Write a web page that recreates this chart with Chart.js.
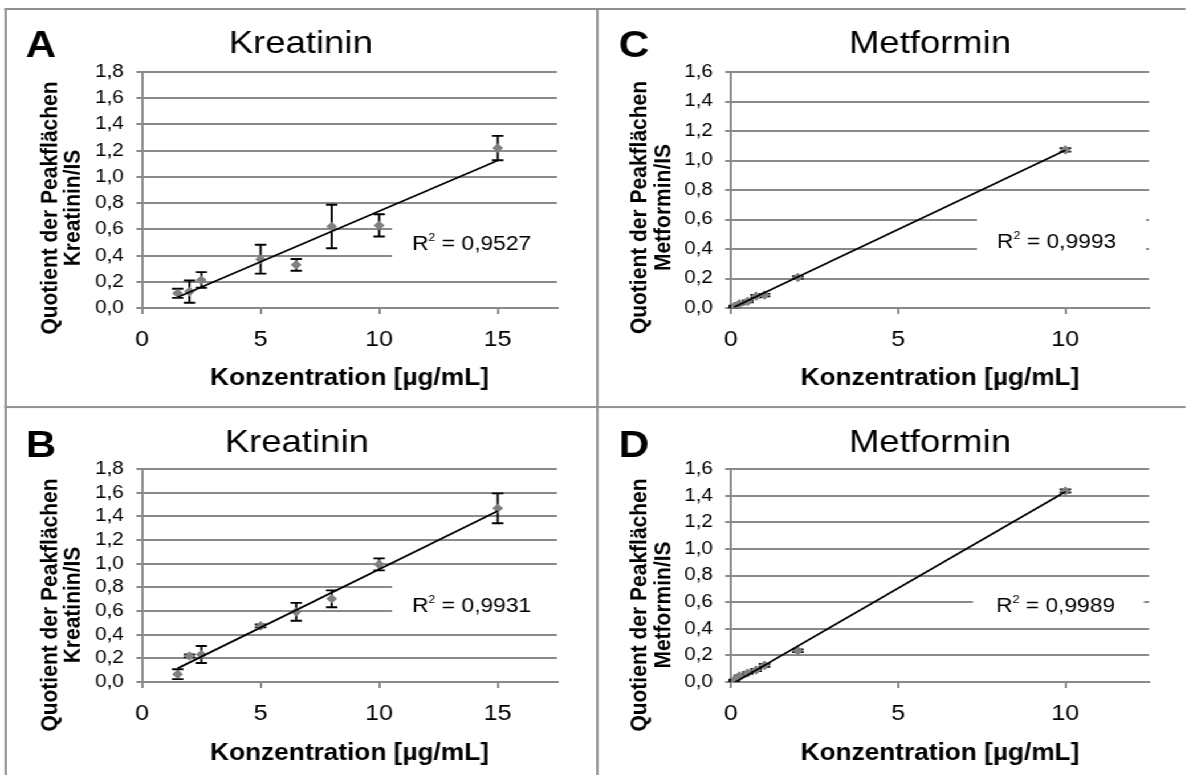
<!DOCTYPE html>
<html>
<head>
<meta charset="utf-8">
<script src="https://cdn.jsdelivr.net/npm/chart.js@4.4.1/dist/chart.umd.min.js"></script>
<style>
  html, body { margin: 0; padding: 0; background: #fff; }
  body { width: 1186px; height: 775px; overflow: hidden; position: relative; }
  /* the figure is a little wider than tall-proportioned Arial, so the whole stage is stretched */
  #stage { position: absolute; left: 0; top: 0; width: 1040px; height: 775px;
           transform: scaleX(1.14); transform-origin: 0 0; }
  .frame { position: absolute; background: #909090; }
  canvas { position: absolute; }
</style>
</head>
<body>
<div id="stage">
  <div class="frame" style="left:4px;top:8px;width:1036px;height:2px"></div>
  <div class="frame" style="left:4px;top:8px;width:2px;height:767px"></div>
  <div class="frame" style="left:523px;top:8px;width:2px;height:767px"></div>
  <div class="frame" style="left:4px;top:406px;width:1036px;height:2px"></div>
  <canvas id="chartA" width="517" height="396" style="left:6px;top:10px"></canvas>
  <canvas id="chartC" width="515" height="396" style="left:525px;top:10px"></canvas>
  <canvas id="chartB" width="517" height="367" style="left:6px;top:408px"></canvas>
  <canvas id="chartD" width="515" height="367" style="left:525px;top:408px"></canvas>
</div>
<script>
const FONT = "'Liberation Sans', Arial, sans-serif";
const GRID = '#8a8a8a';

// Kreatinin, concentrations in µg/mL
const kreaConc = [1.5, 2, 2.5, 5, 6.5, 8, 10, 15];
const kreaQuotA = [0.112, 0.125, 0.214, 0.372, 0.329, 0.622, 0.630, 1.220];
const kreaErrA = [0.035, 0.085, 0.060, 0.110, 0.045, 0.166, 0.085, 0.093];
const kreaQuotB = [0.066, 0.220, 0.232, 0.474, 0.593, 0.703, 0.994, 1.468];
const kreaErrB = [0.042, 0.012, 0.072, 0.012, 0.076, 0.071, 0.051, 0.126];

// Metformin
const metConc = [0.1, 0.25, 0.5, 0.75, 1, 2, 10];
const metQuotC = [0.010, 0.028, 0.045, 0.080, 0.088, 0.207, 1.072];
const metErrC = [0.005, 0.005, 0.006, 0.008, 0.008, 0.008, 0.012];
const metQuotD = [0.012, 0.045, 0.068, 0.090, 0.125, 0.235, 1.435];
const metErrD = [0.005, 0.005, 0.006, 0.008, 0.010, 0.010, 0.012];

// linear trendlines (end points)
const trendConcKrea = [1.5, 15];
const trendA = [0.082, 1.125];
const trendB = [0.115, 1.445];
const trendConcMet = [0.1, 10];
const trendC = [0.007, 1.07];
const trendD = [-0.005, 1.43];

const r2Values = ['0,9527', '0,9931', '0,9993', '0,9989'];

const panels = [
  { id: 'chartA', letter: 'A', title: 'Kreatinin', ox: 6, oy: 10,
    area: [124.6, 72, 488.6, 308], xMax: 17.5, yMax: 1.8,
    conc: kreaConc, quot: kreaQuotA, err: kreaErrA, tx: trendConcKrea, ty: trendA,
    yLabel: ['Quotient der Peakflächen', 'Kreatinin/IS'], r2: r2Values[0],
    letterPos: [22.5, 57], titlePos: [263.8, 53.3], xtBase: 385, ytPos: [44, 64.7, 208],
    r2Pos: [361.4, 250], box: [343.9, 220, 495, 266] },
  { id: 'chartB', letter: 'B', title: 'Kreatinin', ox: 6, oy: 408,
    area: [124.6, 469, 488.6, 682], xMax: 17.5, yMax: 1.8,
    conc: kreaConc, quot: kreaQuotB, err: kreaErrB, tx: trendConcKrea, ty: trendB,
    yLabel: ['Quotient der Peakflächen', 'Kreatinin/IS'], r2: r2Values[1],
    letterPos: [22.5, 456.7], titlePos: [260.4, 451.5], xtBase: 760, ytPos: [44, 64.7, 605],
    r2Pos: [361.4, 611.7], box: [343.9, 578, 495, 628] },
  { id: 'chartC', letter: 'C', title: 'Metformin', ox: 525, oy: 10,
    area: [641.2, 72, 1007.9, 308], xMax: 12.5, yMax: 1.6,
    conc: metConc, quot: metQuotC, err: metErrC, tx: trendConcMet, ty: trendC,
    yLabel: ['Quotient der Peakflächen', 'Metformin/IS'], r2: r2Values[2],
    letterPos: [542.7, 57], titlePos: [815.8, 53.3], xtBase: 385, ytPos: [561.6, 582.4, 207.5],
    r2Pos: [874.6, 248.3], box: [857, 210, 1005.3, 262] },
  { id: 'chartD', letter: 'D', title: 'Metformin', ox: 525, oy: 408,
    area: [641.2, 469, 1007.9, 682], xMax: 12.5, yMax: 1.6,
    conc: metConc, quot: metQuotD, err: metErrD, tx: trendConcMet, ty: trendD,
    yLabel: ['Quotient der Peakflächen', 'Metformin/IS'], r2: r2Values[3],
    letterPos: [542.7, 456.7], titlePos: [815.8, 451.5], xtBase: 760, ytPos: [561.6, 582.4, 605],
    r2Pos: [873.7, 611.7], box: [853.5, 585, 1003.5, 622] }
];

function decor(p) {
  return {
    id: 'decor',
    beforeDatasetsDraw(chart) {
      const ctx = chart.ctx, xs = chart.scales.x, ys = chart.scales.y;
      ctx.save();
      // white label box hides the gridlines behind R²
      ctx.fillStyle = '#fff';
      ctx.fillRect(p.box[0] - p.ox, p.box[1] - p.oy, p.box[2] - p.box[0], p.box[3] - p.box[1]);
      // error bars
      ctx.strokeStyle = '#000';
      ctx.lineWidth = 1.9;
      p.conc.forEach(function (c, i) {
        const x = xs.getPixelForValue(c);
        const y1 = ys.getPixelForValue(p.quot[i] + p.err[i]);
        const y2 = ys.getPixelForValue(p.quot[i] - p.err[i]);
        ctx.beginPath();
        ctx.moveTo(x, y1); ctx.lineTo(x, y2);
        ctx.moveTo(x - 5, y1); ctx.lineTo(x + 5, y1);
        ctx.moveTo(x - 5, y2); ctx.lineTo(x + 5, y2);
        ctx.stroke();
      });
      ctx.restore();
    },
    afterDraw(chart) {
      const ctx = chart.ctx, a = chart.chartArea;
      ctx.save();
      ctx.translate(-p.ox, -p.oy);
      ctx.fillStyle = '#000';
      ctx.textBaseline = 'alphabetic';

      ctx.font = 'bold 37px ' + FONT;
      ctx.textAlign = 'left';
      ctx.fillText(p.letter, p.letterPos[0], p.letterPos[1]);

      ctx.font = '32px ' + FONT;
      ctx.textAlign = 'center';
      ctx.fillText(p.title, p.titlePos[0], p.titlePos[1]);

      ctx.font = 'bold 23px ' + FONT;
      ctx.fillText('Konzentration [µg/mL]', (a.left + a.right) / 2 + p.ox, p.xtBase);

      ctx.font = 'bold 21px ' + FONT;
      ctx.textBaseline = 'middle';
      p.yLabel.forEach(function (t, i) {
        ctx.save();
        ctx.translate(p.ytPos[i], p.ytPos[2]);
        ctx.rotate(-Math.PI / 2);
        ctx.fillText(t, 0, 0);
        ctx.restore();
      });

      // R² label
      ctx.textBaseline = 'alphabetic';
      ctx.textAlign = 'left';
      let x = p.r2Pos[0];
      ctx.font = '20px ' + FONT;
      ctx.fillText('R', x, p.r2Pos[1]);
      x += ctx.measureText('R').width;
      ctx.font = '11px ' + FONT;
      ctx.fillText('2', x, p.r2Pos[1] - 9);
      x += ctx.measureText('2').width;
      ctx.font = '20px ' + FONT;
      ctx.fillText(' = ' + p.r2, x, p.r2Pos[1]);
      ctx.restore();
    }
  };
}

panels.forEach(function (p) {
  const canvas = document.getElementById(p.id);
  // the scale boxes take the whole margin, so their tick labels are not clipped
  const yWidth = p.area[0] - p.ox;
  const xHeight = p.oy + canvas.height - p.area[3];
  const pad = {
    left: 0,
    top: p.area[1] - p.oy,
    right: p.ox + canvas.width - p.area[2],
    bottom: 0
  };
  const config = {
    type: 'scatter',
    data: {
      datasets: [{
        label: 'Trend',
        data: p.tx.map(function (c, i) { return { x: c, y: p.ty[i] }; }),
        showLine: true,
        borderColor: '#000',
        borderWidth: 1.8,
        pointRadius: 0,
        order: 0
      }, {
        label: p.title,
        data: p.conc.map(function (c, i) { return { x: c, y: p.quot[i] }; }),
        pointStyle: 'rectRot',
        pointRadius: 4.8,
        backgroundColor: '#808080',
        borderWidth: 0,
        order: 1
      }]
    },
    options: {
      responsive: false,
      animation: false,
      devicePixelRatio: 1,
      layout: { padding: pad },
      plugins: { legend: { display: false }, tooltip: { enabled: false } },
      scales: {
        x: {
          type: 'linear', min: 0, max: p.xMax,
          afterFit: function (s) { s.height = xHeight; },
          ticks: { stepSize: 5, includeBounds: false, autoSkip: false, padding: 13, maxRotation: 0,
                   color: '#000', font: { family: FONT, size: 22 } },
          grid: { drawOnChartArea: false, tickLength: 6, color: GRID, lineWidth: 2 },
          border: { color: GRID, width: 2 }
        },
        y: {
          type: 'linear', min: 0, max: p.yMax,
          afterFit: function (s) { s.width = yWidth; },
          ticks: { stepSize: 0.2, autoSkip: false, padding: 11, color: '#000',
                   font: { family: FONT, size: 18, lineHeight: 1 },
                   callback: function (v) { return v.toFixed(1).replace('.', ','); } },
          grid: { tickLength: 5, color: GRID, lineWidth: 2 },
          border: { color: GRID, width: 2 }
        }
      }
    },
    plugins: [decor(p)]
  };
  new Chart(canvas.getContext('2d'), config);
});
</script>
</body>
</html>
